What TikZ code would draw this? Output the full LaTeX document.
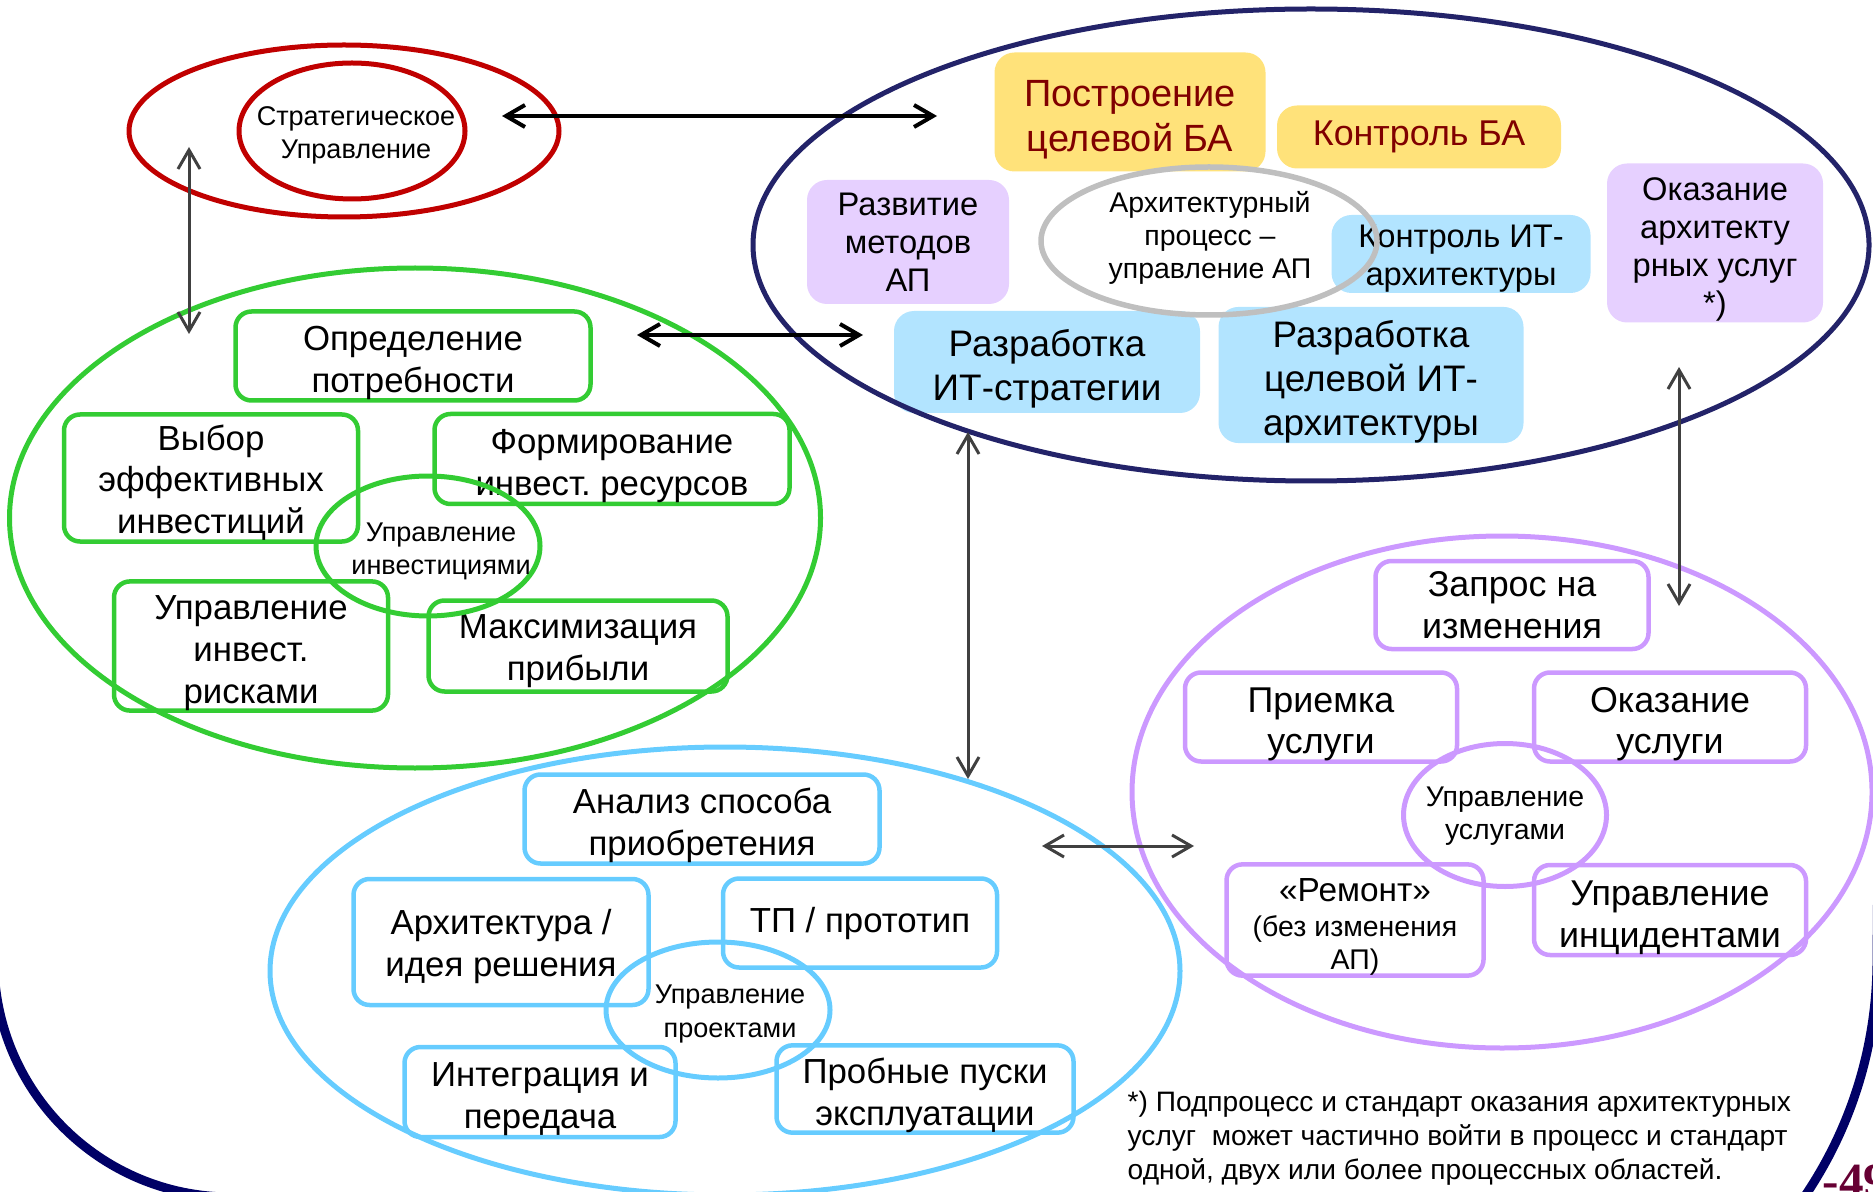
\documentclass[tikz,border=0pt]{standalone}
\usepackage{fontspec}
\setmainfont{Liberation Sans}
\newfontfamily\pagenumfont{Liberation Serif}
\usepackage{xcolor}
\usepackage{tikz}
\usetikzlibrary{arrows.meta,shapes.geometric}
\frenchspacing

\definecolor{strred}{RGB}{192,0,0}
\definecolor{invgreen}{RGB}{51,204,51}
\definecolor{projblue}{RGB}{102,204,255}
\definecolor{svcviolet}{RGB}{204,153,255}
\definecolor{archnavy}{RGB}{35,35,105}
\definecolor{framenavy}{RGB}{0,0,102}
\definecolor{bafill}{RGB}{255,226,122}
\definecolor{batext}{RGB}{128,0,0}
\definecolor{apfill}{RGB}{230,208,255}
\definecolor{itfill}{RGB}{178,228,255}
\definecolor{ringgray}{RGB}{191,191,191}
\definecolor{arrgray}{RGB}{64,64,64}
\definecolor{pagenum}{RGB}{102,0,51}

\newcommand{\bigfs}{\fontsize{10.5}{12.5}\selectfont}
\newcommand{\mainfs}{\fontsize{9.9}{11.9}\selectfont}
\newcommand{\svcfs}{\fontsize{10.2}{11.9}\selectfont}
\newcommand{\midfs}{\fontsize{9.3}{10.8}\selectfont}
\newcommand{\smallfs}{\fontsize{7.7}{9.4}\selectfont}
\newcommand{\ringfs}{\fontsize{8.1}{9.4}\selectfont}
\newcommand{\footfs}{\fontsize{8.0}{9.7}\selectfont}
% taller first line pushes the text a little down in its box
\newcommand{\lift}{\rule{0pt}{1.1em}}
\newcommand{\liftsm}{\rule{0pt}{1.0em}}

\tikzset{
procbox/.style={
draw,
line width=0.45mm,
rounded corners=1.6mm,
align=center,
inner sep=0pt,
font=\mainfs
},
fillbox/.style={
rounded corners=2mm,
align=center,
inner sep=0pt,
font=\bigfs
},
ring/.style={
ellipse,
draw,
line width=0.5mm,
inner sep=0pt
},
ringtext/.style={
align=center,
inner sep=0pt,
font=\smallfs
},
arrow/.style={
{Straight Barb[length=1.9mm,width=2.2mm]}-{Straight Barb[length=1.9mm,width=2.2mm]},
line width=0.4mm
},
grayarrow/.style={
arrow,
draw=arrgray,
line width=0.3mm
}
}

\begin{document}
\begin{tikzpicture}[x=0.1mm,y=-0.1mm]
\useasboundingbox (0,0) rectangle (1873,1192);

% slide frame
\draw[framenavy,line width=0.9mm] (-6,600) -- (-6,960) arc[start angle=180,end angle=90,radius=237]
  -- (1455,1382) arc[start angle=90,end angle=0,radius=422] -- (1880,600);

% strategic management
\node[ring,draw=strred,minimum width=43mm,minimum height=17.2mm] (stratouter) at (344,131) {};
\node[ring,draw=strred,minimum width=22.6mm,minimum height=13.6mm] (stratinner) at (352,131) {};
\node[ringtext] (strattext) at (356,135) {Стратегическое\\Управление};

% investment management
\node[ring,draw=invgreen,minimum width=81.1mm,minimum height=50mm] (investarea) at (415,518) {};
\node[procbox,draw=invgreen,minimum width=35.5mm,minimum height=8.9mm] (need) at (413,356) {\lift Определение\\потребности};
\node[procbox,draw=invgreen,minimum width=29.4mm,minimum height=12.7mm] (choice) at (211,478) {\liftsm Выбор\\эффективных\\инвестиций};
\node[procbox,draw=invgreen,minimum width=35.5mm,minimum height=9mm] (funds) at (612,459) {\lift Формирование\\инвест. ресурсов};
\node[procbox,draw=invgreen,minimum width=27.4mm,minimum height=12.7mm] (risk) at (251,646) {\lift Управление\\инвест.\\рисками};
\node[procbox,draw=invgreen,minimum width=29.9mm,minimum height=9.1mm] (profit) at (578,646) {\liftsm Максимизация\\прибыли};
\node[ring,draw=invgreen,minimum width=22.4mm,minimum height=14mm] (investring) at (428,546) {};
\node[ringtext] (investtext) at (441,551) {Управление\\инвестициями};

% architecture process
\node[fillbox,fill=bafill,text=batext,font=\fontsize{10.8}{12.6}\selectfont,minimum width=27.1mm,minimum height=11.9mm] (batarget) at (1130,112) {\lift Построение\\целевой БА};
\node[fillbox,fill=bafill,text=batext,font=\fontsize{10.2}{12}\selectfont,minimum width=28.4mm,minimum height=6.3mm] (bactrl) at (1419,137) {Контроль БА};
\node[fillbox,fill=apfill,font=\midfs,minimum width=20.2mm,minimum height=12.4mm] (apmeth) at (908,242) {Развитие\\методов\\АП};
\node[fillbox,fill=apfill,font=\midfs,minimum width=21.6mm,minimum height=15.9mm] (archsvc) at (1715,243) {\lift Оказание\\архитекту\\рных услуг\\*)};
\node[fillbox,fill=itfill,font=\midfs,minimum width=25.9mm,minimum height=7.8mm] (itctrl) at (1461,254) {\liftsm Контроль ИТ-\\архитектуры};
\node[fillbox,fill=itfill,minimum width=30.6mm,minimum height=10.2mm] (itstrat) at (1047,362) {\lift Разработка\\ИТ-стратегии};
\node[fillbox,fill=itfill,minimum width=30.5mm,minimum height=13.2mm] (ittarget) at (1371,375) {\lift Разработка\\целевой ИТ-\\архитектуры};
\node[ring,draw=ringgray,line width=0.55mm,minimum width=33.6mm,minimum height=14.8mm] (aprocring) at (1209,241) {};
\node[ringtext,font=\ringfs] (aproctext) at (1210,238) {Архитектурный\\процесс –\\управление АП};
\node[ring,draw=archnavy,minimum width=111.6mm,minimum height=47.2mm] (archarea) at (1311,245) {};

% project management
\node[ring,draw=projblue,minimum width=91mm,minimum height=44.8mm] (projarea) at (725,971) {};
\node[procbox,draw=projblue,minimum width=35.5mm,minimum height=8.9mm] (acq) at (702,819) {\lift Анализ способа\\приобретения};
\node[procbox,draw=projblue,minimum width=29.5mm,minimum height=12.6mm] (idea) at (501,942) {\liftsm Архитектура /\\идея решения};
\node[procbox,draw=projblue,minimum width=27.4mm,minimum height=8.9mm] (proto) at (860,923) {ТП / прототип};
\node[procbox,draw=projblue,minimum width=27.1mm,minimum height=9mm] (integ) at (540,1092) {\lift Интеграция и\\передача};
\node[procbox,draw=projblue,minimum width=29.7mm,minimum height=8.6mm] (trial) at (925,1089) {\lift Пробные пуски\\эксплуатации};
\node[ring,draw=projblue,minimum width=22.4mm,minimum height=13.6mm] (projring) at (718,1010) {};
\node[ringtext] (projtext) at (730,1014) {Управление\\проектами};

% service management
\node[ring,draw=svcviolet,minimum width=74mm,minimum height=51.2mm] (svcarea) at (1502,792) {};
\node[procbox,draw=svcviolet,font=\svcfs,minimum width=27.3mm,minimum height=8.8mm] (chreq) at (1512,605) {Запрос на\\изменения};
\node[procbox,draw=svcviolet,font=\svcfs,minimum width=27.2mm,minimum height=8.9mm] (accept) at (1321,717) {\lift Приемка\\услуги};
\node[procbox,draw=svcviolet,font=\svcfs,minimum width=27.2mm,minimum height=8.9mm] (deliver) at (1670,717) {\lift Оказание\\услуги};
\node[procbox,draw=svcviolet,font=\fontsize{9.5}{11.9}\selectfont,minimum width=25.7mm,minimum height=11.1mm] (repair) at (1355,920) {\lift «Ремонт»\\[-0.6mm]{\ringfs (без изменения}\\[-0.9mm]{\ringfs АП)}};
\node[procbox,draw=svcviolet,font=\svcfs,minimum width=27.2mm,minimum height=9mm] (incident) at (1670,910) {\lift Управление\\инцидентами};
\node[ring,draw=svcviolet,minimum width=20.3mm,minimum height=14.3mm] (svcring) at (1505,815) {};
\node[ringtext,font=\ringfs] (svctext) at (1505,816) {Управление\\услугами};

% links between areas
\coordinate (a1) at (502,116);  \coordinate (b1) at (937,116);
\coordinate (a2) at (637,335);  \coordinate (b2) at (863,335);
\coordinate (a3) at (189,147);  \coordinate (b3) at (189,334);
\coordinate (a4) at (968,432);  \coordinate (b4) at (968,779);
\coordinate (a5) at (1679,367); \coordinate (b5) at (1679,606);
\coordinate (a6) at (1042,846); \coordinate (b6) at (1194,846);

\foreach \x/\y in {a1/b1,a2/b2}
\draw[arrow](\x)--(\y);
\foreach \x/\y in {a3/b3,a4/b4,a5/b5,a6/b6}
\draw[grayarrow](\x)--(\y);

\node[anchor=north west,align=left,inner sep=0pt,font=\footfs] (note) at (1127,1090) {*) Подпроцесс и стандарт оказания архитектурных\\услуг\ \ может частично войти в процесс и стандарт\\одной, двух или более процессных областей.};
\node[anchor=base west,inner sep=0pt,text=pagenum,font=\pagenumfont\fontsize{14}{16}\selectfont\bfseries] (pgnum) at (1822,1197) {-49};
\end{tikzpicture}
\end{document}
